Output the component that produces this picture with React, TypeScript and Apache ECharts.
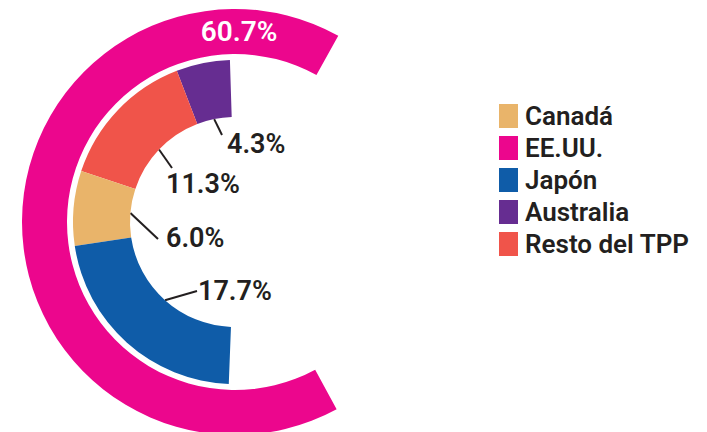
import React, { useEffect, useRef } from "react";
import * as echarts from "echarts";

// ---- data ----
const outerNames = ["EE.UU."];
const outerValues = [60.7];
const innerNames = ["Australia", "Resto del TPP", "Canadá", "Japón"];
const innerValues = [4.3, 11.3, 6.0, 17.7];
const legendOrder = ["Canadá", "EE.UU.", "Japón", "Australia", "Resto del TPP"];

// ---- styles / layout ----
const COLORS: Record<string, string> = {
  "EE.UU.": "#EC068D",
  Australia: "#662D91",
  "Resto del TPP": "#F0544A",
  Canadá: "#E9B46A",
  Japón: "#0F5CA8",
};
const CX = 235;
const CY = 222;
const INNER_R = [105, 162];
const OUTER_R = [168, 213];
const INNER_START = 91.8;
const INNER_END = 267.8;
const FONT = "Roboto, 'Noto Sans', sans-serif";
const TEXT = "#231f20";
// label text anchor (left, middle) and leader end point
const LABEL_SPOTS = [
  { tx: 227, ty: 144, ex: 222, ey: 135 },
  { tx: 166, ty: 184, ex: 172, ey: 168 },
  { tx: 166, ty: 238, ex: 158, ey: 239 },
  { tx: 198, ty: 291, ex: 197, ey: 291 },
];

export default function App() {
  const ref = useRef<HTMLDivElement>(null);
  useEffect(() => {
    document.body.style.margin = "0";
    const chart = echarts.init(ref.current!, null, { renderer: "svg" });
    const total = innerValues.reduce((a, b) => a + b, 0);
    const midPoint = (i: number) => {
      let cum = 0;
      for (let k = 0; k < i; k++) cum += innerValues[k];
      cum += innerValues[i] / 2;
      const ang = ((INNER_START + ((INNER_END - INNER_START) * cum) / total) * Math.PI) / 180;
      return [CX + INNER_R[0] * Math.cos(ang), CY - INNER_R[0] * Math.sin(ang)];
    };
    chart.setOption({
      animation: false,
      backgroundColor: "#ffffff",
      legend: {
        orient: "vertical",
        left: 499,
        top: 103,
        padding: 0,
        itemWidth: 19,
        itemHeight: 24,
        itemGap: 6,
        icon: "rect",
        selectedMode: false,
        data: legendOrder,
        textStyle: {
          fontFamily: FONT,
          fontSize: 26,
          fontWeight: 600,
          color: TEXT,
          padding: [0, 0, 0, 2],
        },
      },
      series: [
        {
          type: "pie",
          silent: true,
          center: [CX, CY],
          radius: OUTER_R,
          startAngle: 61,
          endAngle: 298.5,
          clockwise: false,
          avoidLabelOverlap: false,
          data: outerNames.map((n, i) => ({
            name: n,
            value: outerValues[i],
            itemStyle: { color: COLORS[n] },
          })),
          label: {
            show: true,
            position: "inside",
            formatter: (p: any) => `${p.value.toFixed(1)}%`,
            color: "#ffffff",
            fontFamily: FONT,
            fontSize: 28,
            fontWeight: 600,
          },
          labelLine: { show: false },
          labelLayout: () => ({
            x: CX + 4,
            y: CY - (OUTER_R[0] + OUTER_R[1]) / 2,
            align: "center",
            verticalAlign: "middle",
          }),
        },
        {
          type: "pie",
          silent: true,
          center: [CX, CY],
          radius: INNER_R,
          startAngle: INNER_START,
          endAngle: INNER_END,
          clockwise: false,
          avoidLabelOverlap: false,
          data: innerNames.map((n, i) => ({
            name: n,
            value: innerValues[i],
            itemStyle: { color: COLORS[n] },
          })),
          label: {
            show: true,
            position: "outside",
            formatter: (p: any) => `${p.value.toFixed(1)}%`,
            color: TEXT,
            fontFamily: FONT,
            fontSize: 27,
            fontWeight: 600,
          },
          labelLine: {
            show: true,
            lineStyle: { color: TEXT, width: 2 },
          },
          labelLayout: (params: any) => {
            const i = params.dataIndex;
            const s = LABEL_SPOTS[i];
            const p = midPoint(i);
            return {
              x: s.tx,
              y: s.ty,
              align: "left",
              verticalAlign: "middle",
              labelLinePoints: [p, [s.ex, s.ey]],
            };
          },
        },
      ],
    });
    return () => chart.dispose();
  }, []);
  return (
    <div
      ref={ref}
      style={{ position: "absolute", left: 0, top: 0, width: 707, height: 432 }}
    />
  );
}
